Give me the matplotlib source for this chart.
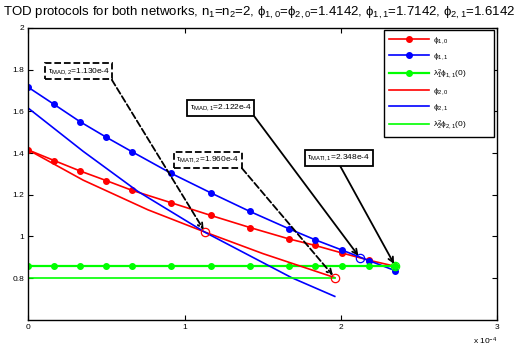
import matplotlib
matplotlib.use("Agg")
import matplotlib.pyplot as plt

plt.rcParams['font.family'] = ['Liberation Sans', 'DejaVu Sans']
plt.rcParams['mathtext.fontset'] = 'custom'
plt.rcParams['mathtext.rm'] = 'Liberation Sans'
plt.rcParams['mathtext.it'] = 'Liberation Sans:italic'
plt.rcParams['mathtext.default'] = 'rm'

# x values in units of 1e-4
tau_grid = [0, 0.164, 0.33, 0.497, 0.663, 0.912, 1.167, 1.417, 1.664, 1.835, 2.006, 2.18, 2.348]
phi10 = [1.4142, 1.364, 1.314, 1.268, 1.221, 1.162, 1.101, 1.043, 0.989, 0.957, 0.921, 0.886, 0.857]
phi11 = [1.7142, 1.633, 1.55, 1.476, 1.406, 1.303, 1.209, 1.12, 1.038, 0.984, 0.935, 0.884, 0.836]
lam1_phi11_0 = 0.857

tau2 = [0, 0.35, 0.764, 1.13, 1.5, 1.96]
phi20 = [1.4142, 1.27, 1.128, 1.021, 0.918, 0.803]
tau2b = [0, 0.35, 0.7, 1.13, 1.683, 1.96]
phi21 = [1.6142, 1.408, 1.216, 1.02, 0.803, 0.713]
lam2_phi21_0 = 0.803

tau_mad2, tau_mati2, tau_mad1, tau_mati1 = 1.130, 1.960, 2.122, 2.348
pt_mad2 = 1.021
pt_mati2 = 0.803
pt_mad1 = 0.897
pt_mati1 = 0.857

fig = plt.figure(figsize=(5.18, 3.52), dpi=100)
ax = fig.add_axes([0.055, 0.091, 0.905, 0.830])

lw = 1.2
ms = 8
ax.plot(tau_grid, phi10, '-', color='red', lw=lw, marker='.', ms=ms, label=r'$\phi_{1,0}$')
ax.plot(tau_grid, phi11, '-', color='blue', lw=lw, marker='.', ms=ms, label=r'$\phi_{1,1}$')
ax.plot(tau_grid, [lam1_phi11_0]*len(tau_grid), '-', color=(0, 1, 0), lw=1.6, marker='.', ms=ms,
        label=r'$\lambda_1^2\phi_{1,1}(0)$')
ax.plot(tau2, phi20, '-', color='red', lw=lw, label=r'$\phi_{2,0}$')
ax.plot(tau2b, phi21, '-', color='blue', lw=lw, label=r'$\phi_{2,1}$')
ax.plot([0, tau_mati2], [lam2_phi21_0]*2, '-', color=(0, 1, 0), lw=lw, label=r'$\lambda_2^2\phi_{2,1}(0)$')

ax.plot([tau_mad2, tau_mati2], [pt_mad2, pt_mati2], 'o', mfc='none', mec='red', ms=6, mew=0.9)
ax.plot([tau_mad1], [pt_mad1], 'o', mfc='none', mec='blue', ms=6, mew=0.9)
ax.plot([tau_mati1], [pt_mati1], 'o', mfc='none', mec=(0, 1, 0), ms=6, mew=0.9)

ax.set_xlim(0, 3)
ax.set_ylim(0.6, 2)
ax.set_xticks([0, 1, 2, 3])
ax.set_xticklabels(['0', '1', '2', '3'])
ax.set_yticks([0.8, 1.0, 1.2, 1.4, 1.6, 1.8, 2.0])
ax.set_yticklabels(['0.8', '1', '1.2', '1.4', '1.6', '1.8', '2'])
ax.tick_params(direction='in', top=True, right=True, length=3.5, width=0.8, labelsize=6, pad=3, colors='black')
for s in ax.spines.values():
    s.set_linewidth(1.0)

ax.text(1.0, -0.055, r'x 10$^{-4}$', transform=ax.transAxes, ha='right', va='top', fontsize=6)

fig.text(0.5, 0.985, r'TOD protocols for both networks, n$_1$=n$_2$=2, $\phi_{1,0}$=$\phi_{2,0}$=1.4142, $\phi_{1,1}$=1.7142, $\phi_{2,1}$=1.6142',
         ha='center', va='top', fontsize=9.5)

def box_annot(text, xy, xytext, ls, relpos):
    ax.annotate(text, xy=xy, xytext=xytext, fontsize=6, ha='center', va='center',
                bbox=dict(boxstyle='square,pad=0.3', fc='white', ec='black', lw=1.3, ls=ls),
                arrowprops=dict(arrowstyle='->,head_length=0.6,head_width=0.3', color='black', lw=1.3,
                                ls=ls, relpos=relpos, shrinkA=0, shrinkB=2))

box_annot(r'$\tau_{MAD,2}$=1.130e-4', (tau_mad2, pt_mad2), (0.322, 1.792), '--', (1, 0))
box_annot(r'$\tau_{MATI,2}$=1.960e-4', (tau_mati2, pt_mati2), (1.147, 1.368), '--', (1, 0))
box_annot(r'$\tau_{MAD,1}$=2.122e-4', (tau_mad1, pt_mad1), (1.231, 1.617), '-', (1, 0))
box_annot(r'$\tau_{MATI,1}$=2.348e-4', (tau_mati1, pt_mati1), (1.985, 1.377), '-', (0.5, 0))

leg = ax.legend(loc='upper left', bbox_to_anchor=(0.758, 0.0, 0.2345, 0.992), mode='expand',
                fontsize=6, handlelength=4.8, handletextpad=0.5,
                labelspacing=0.62, borderaxespad=0.0, fancybox=False, framealpha=1, edgecolor='black',
                borderpad=0.6)
leg.get_frame().set_linewidth(1.0)

fig.savefig('out.png', dpi=100)
